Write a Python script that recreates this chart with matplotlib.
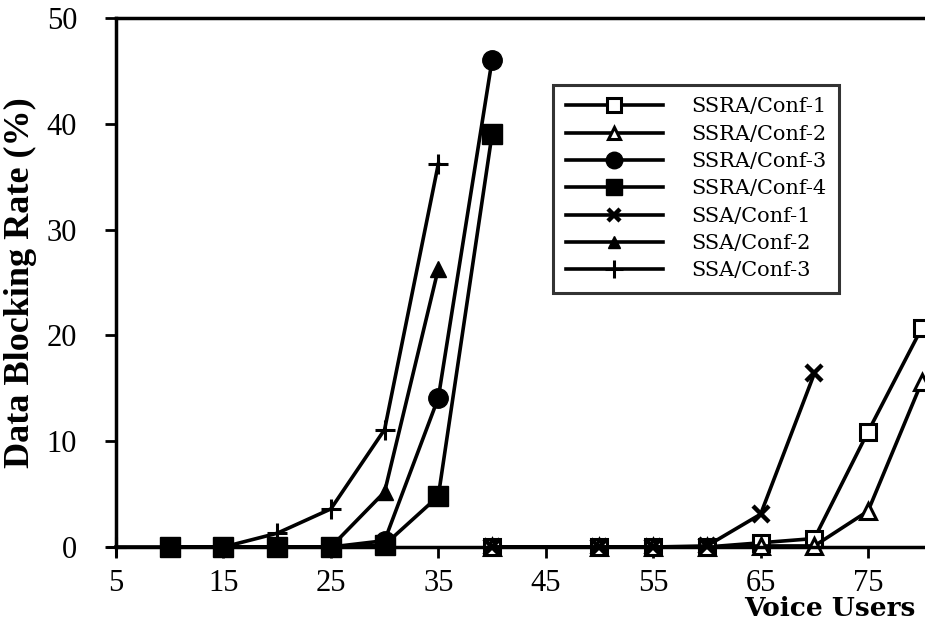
import matplotlib
matplotlib.use("Agg")
import matplotlib.pyplot as plt

# ---- data ----
ssra1_x = [40, 50, 55, 60, 65, 70, 75, 80]
ssra1_y = [0, 0, 0, 0, 0.4, 0.8, 10.9, 20.7]
ssra2_x = [40, 50, 55, 60, 65, 70, 75, 80]
ssra2_y = [0, 0, 0, 0, 0.1, 0.1, 3.4, 15.6]
ssra3_x = [10, 15, 20, 25, 30, 35, 40]
ssra3_y = [0, 0, 0, 0, 0.6, 14.1, 46.0]
ssra4_x = [10, 15, 20, 25, 30, 35, 40]
ssra4_y = [0, 0, 0, 0, 0.2, 4.8, 39.0]
ssa1_x = [40, 50, 55, 60, 65, 70]
ssa1_y = [0, 0, 0, 0.1, 3.1, 16.4]
ssa2_x = [10, 15, 20, 25, 30, 35]
ssa2_y = [0, 0, 0, 0, 5.2, 26.3]
ssa3_x = [5, 10, 15, 20, 25, 30, 35]
ssa3_y = [0, 0, 0, 1.3, 3.6, 11.1, 36.2]

labels = ["SSRA/Conf-1", "SSRA/Conf-2", "SSRA/Conf-3", "SSRA/Conf-4",
          "SSA/Conf-1", "SSA/Conf-2", "SSA/Conf-3"]
x_ticks = [5, 15, 25, 35, 45, 55, 65, 75]
y_ticks = [0, 10, 20, 30, 40, 50]

plt.rcParams['font.family'] = ['Liberation Serif', 'DejaVu Serif']

fig = plt.figure(figsize=(9.25, 6.3), dpi=100)
ax = fig.add_axes([116/925, 1-547/630, 1-116/925, (547-18)/630])

lw = 2.6
series = [
    (ssra1_x, ssra1_y, dict(marker='s', mfc='white', ms=12, mew=2.2)),
    (ssra2_x, ssra2_y, dict(marker='^', mfc='white', ms=11, mew=2.2)),
    (ssra3_x, ssra3_y, dict(marker='o', mfc='black', ms=14, mew=1)),
    (ssra4_x, ssra4_y, dict(marker='s', mfc='black', ms=14, mew=1)),
    (ssa1_x, ssa1_y, dict(marker='x', mfc='black', ms=11, mew=3.2)),
    (ssa2_x, ssa2_y, dict(marker='^', mfc='black', ms=11, mew=1)),
    (ssa3_x, ssa3_y, dict(marker='+', mfc='black', ms=15, mew=2.2)),
]
handles = []
for (xs, ys, st), lab in zip(series, labels):
    h, = ax.plot(xs, ys, color='black', lw=lw, mec='black', label=lab,
                 clip_on=False, **st)
    handles.append(h)

ax.set_xlim(5, 80.3)
ax.set_ylim(0, 50)
ax.set_xticks(x_ticks)
ax.set_yticks(y_ticks)
ax.tick_params(axis='both', direction='out', length=8, width=2,
               labelsize=22)
ax.tick_params(axis='x', pad=8)
ax.tick_params(axis='y', pad=20)
for s in ['left', 'bottom', 'top']:
    ax.spines[s].set_linewidth(2.5)
ax.spines['right'].set_visible(False)

ax.set_ylabel("Data Blocking Rate (%)", fontsize=26, fontweight='bold')
ax.yaxis.set_label_coords(-(116-37)/809, 0.5)
fig.text(0.990, 1-609/630, "Voice Users", family=['DejaVu Serif'],
         ha='right', va='center', fontsize=19, fontweight='bold')

leg = fig.legend(handles=handles, labels=labels, loc='upper left',
                 bbox_to_anchor=(553/925, 1-85/630), bbox_transform=fig.transFigure,
                 frameon=True, fancybox=False, edgecolor='black',
                 prop={'family': ['DejaVu Serif'], 'size': 15},
                 handlelength=4.7, handletextpad=1.35, labelspacing=0.4,
                 borderpad=0.6, markerscale=0.85, borderaxespad=0)
leg.get_frame().set_linewidth(2.2)

fig.savefig("out.png", dpi=100)
